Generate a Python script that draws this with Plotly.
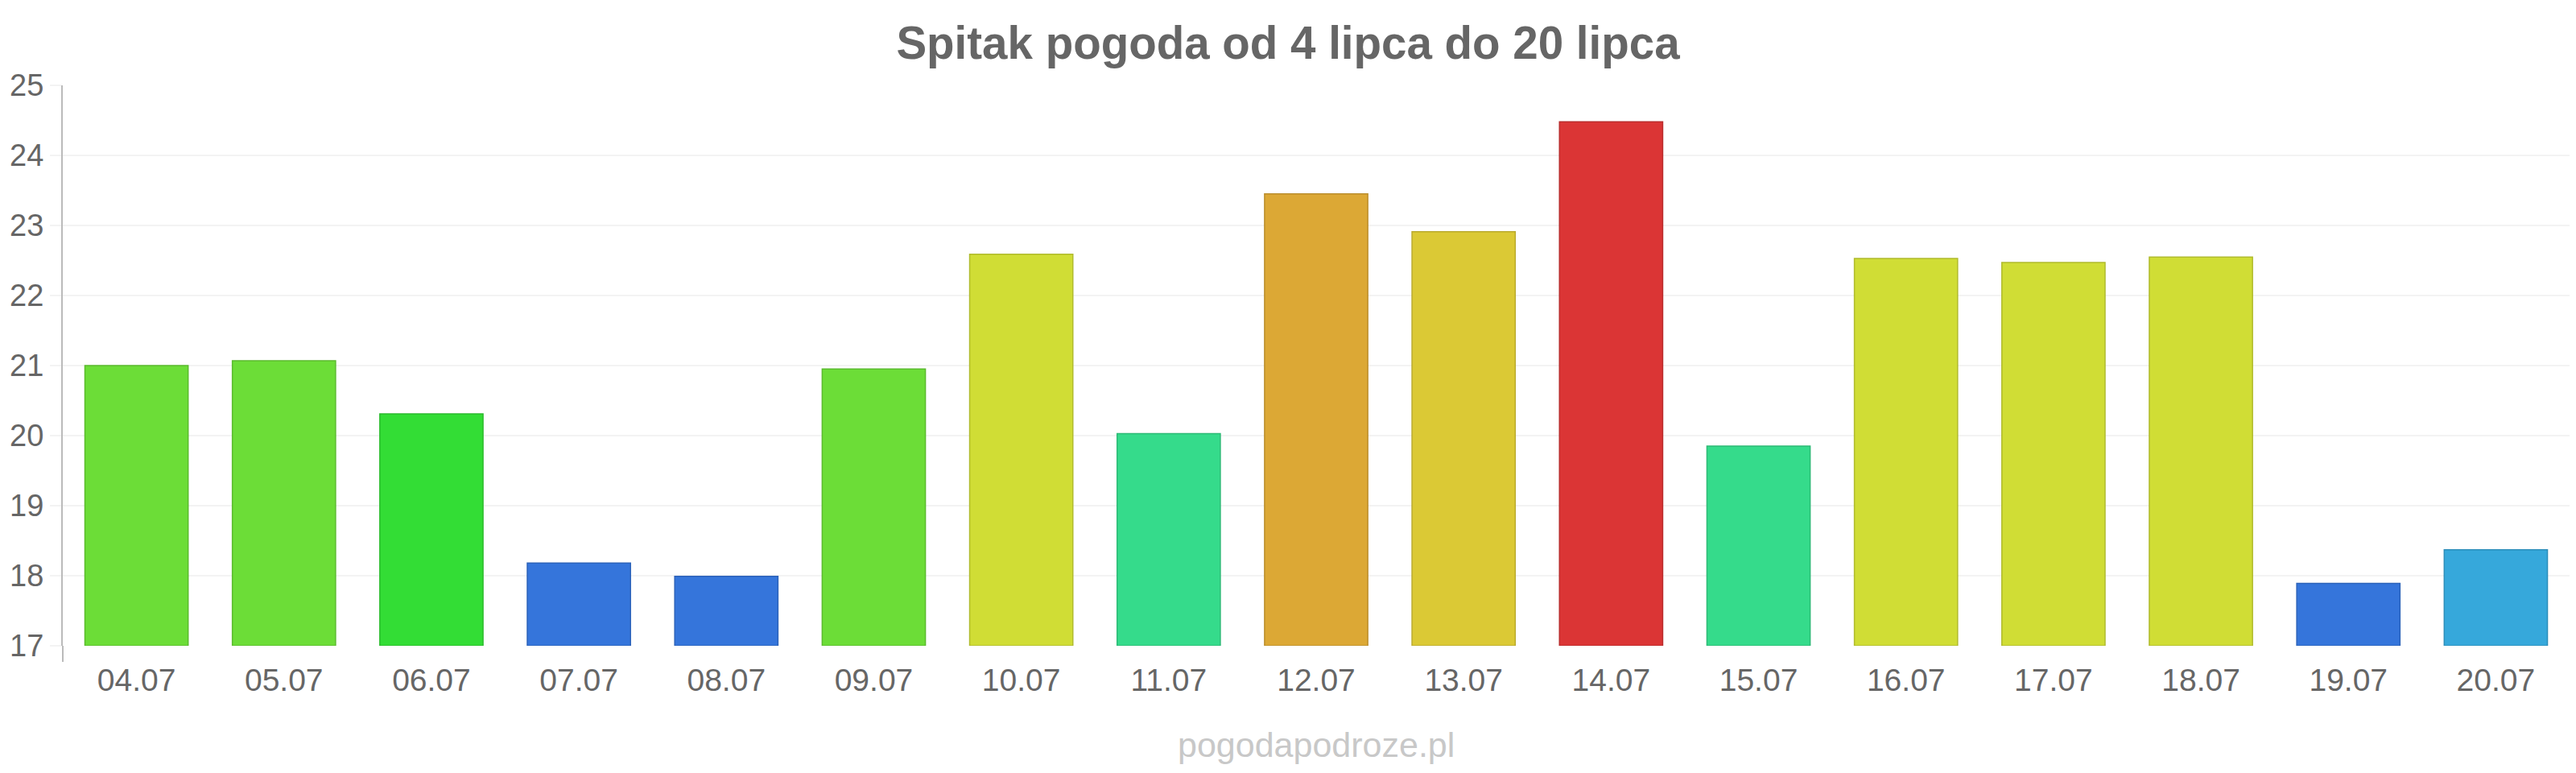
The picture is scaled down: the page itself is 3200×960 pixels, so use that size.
import plotly.graph_objects as go

dates = ["04.07", "05.07", "06.07", "07.07", "08.07", "09.07", "10.07", "11.07", "12.07",
         "13.07", "14.07", "15.07", "16.07", "17.07", "18.07", "19.07", "20.07"]
temps = [21.0, 21.07, 20.31, 18.18, 17.99, 20.95, 22.59, 20.03, 23.45,
         22.91, 24.48, 19.85, 22.53, 22.47, 22.55, 17.89, 18.37]
y_ticks = [17, 18, 19, 20, 21, 22, 23, 24, 25]

title_text = "Spitak pogoda od 4 lipca do 20 lipca"
watermark = "pogodapodroze.pl"

# style
LIME, GREEN, BLUE, YG, TEAL, ORANGE, GOLD, RED, CYAN = (
    "#6cdd37", "#33dd35", "#3575db", "#d0dd35", "#35db8b", "#dca835", "#dbc935", "#db3535", "#36a8db")
bar_colors = [LIME, LIME, GREEN, BLUE, BLUE, LIME, YG, TEAL, ORANGE,
              GOLD, RED, TEAL, YG, YG, YG, BLUE, CYAN]


def darker(hexc, f=0.85):
    h = hexc.lstrip("#")
    r, g, b = (int(h[i:i + 2], 16) for i in (0, 2, 4))
    return "rgb(%d,%d,%d)" % (r * f, g * f, b * f)


line_colors = [darker(c) for c in bar_colors]

fig = go.Figure()
fig.add_trace(go.Bar(
    x=dates, y=[t - 17 for t in temps], base=17,
    marker=dict(color=bar_colors, line=dict(color=line_colors, width=1.5)),
    width=0.7, hoverinfo="skip",
))

FONT = "Liberation Sans, Arial, sans-serif"
fig.update_layout(
    width=3200, height=960,
    margin=dict(l=78, r=8, t=106, b=158),
    plot_bgcolor="white", paper_bgcolor="white",
    showlegend=False,
    font=dict(family=FONT, color="#666666", size=38),
    title=dict(text="<b>" + title_text + "</b>", x=0.5, xref="container", xanchor="center",
               y=1 - 53 / 960, yref="container", yanchor="middle",
               font=dict(family=FONT, size=56.5, color="#666666")),
    xaxis=dict(showgrid=False, showline=False, ticks="", tickfont=dict(size=39, color="#666666"),
               zeroline=False, ticklabelstandoff=16),
    yaxis=dict(range=[17, 25], tickvals=y_ticks, showgrid=True, gridcolor="#f3f3f3", gridwidth=2,
               showline=True, linecolor="#bbbbbb", linewidth=2, ticks="outside", ticklen=14,
               tickcolor="#f3f3f3", tickwidth=2, zeroline=False,
               tickfont=dict(size=38, color="#666666")),
    bargap=0.3,
)

# axis line extends slightly below the plot
fig.add_shape(type="line", xref="paper", yref="paper", x0=0, x1=0, y0=-20 / 696, y1=0,
              line=dict(color="#bbbbbb", width=2))

fig.add_annotation(text=watermark, xref="paper", yref="paper", x=0.5, y=-(925 - 802) / 696,
                   xanchor="center", yanchor="middle", showarrow=False,
                   font=dict(family=FONT, size=43, color="#c8c8c8"))

fig.write_html("out.html")
